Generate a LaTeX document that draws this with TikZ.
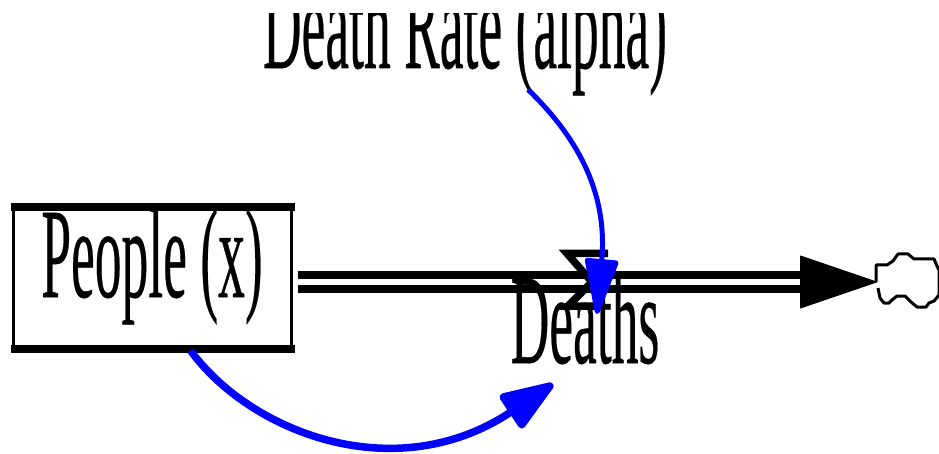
\documentclass[tikz,border=0pt]{standalone}
\usepackage{fontspec}
\setmainfont{Liberation Serif}
\newfontfamily\tallfont[FakeBold=0.4]{Liberation Serif}
\usetikzlibrary{arrows.meta, positioning}

\tikzset{
  tall/.style={anchor=base, inner sep=0pt, font=\tallfont\fontsize{53.5}{60}\selectfont},
  stockbox/.style={draw, line width=3pt, line join=round, minimum width=278pt, minimum height=138pt, inner sep=0pt},
  stockedge/.style={line width=8pt, shorten >=-1.5pt, shorten <=-1.5pt},
  pipeline/.style={draw, line width=8pt, double, double distance=6pt},
  info/.style={draw=blue, line cap=butt}
}
\newcommand{\stretched}[1]{\scalebox{1}[2.4]{#1}}

\begin{document}
\begin{tikzpicture}[x=1pt, y=1pt]
  \useasboundingbox (0,0) rectangle (939,-454);
  \clip (0,0) rectangle (939,-454);

  % stock
  \node[stockbox] (people) at (152.5,-278) {};
  \draw[stockedge] (people.north west) -- (people.north east);
  \draw[stockedge] (people.south west) -- (people.south east);
  \node[tall] (peopletext) at (152,-297) {\stretched{People (x)}};

  % pipe and sink
  \coordinate (pipestart) at (298,-282);
  \coordinate (pipeend) at (803,-282);
  \coordinate (sink) at (877,-282);
  \draw[pipeline] (pipestart) -- (pipeend);
  \draw[line width=1pt, -{Triangle[length=78pt, width=53pt, round]}] (pipeend) -- (sink);
  \draw[line width=3pt, line join=bevel]
    (876,-282) -- (876,-265) -- (887,-265) -- (893,-261) -- (898,-254) -- (908,-254) -- (914,-259)
    -- (934,-259) -- (937,-266) -- (939,-270) -- (939,-295) -- (934,-301) -- (929,-303) -- (926,-307)
    -- (917,-307) -- (911,-302) -- (905,-296) -- (897,-296) -- (892,-300) -- (889,-303)
    -- (884,-303) -- (880,-298) -- (878,-288);

  % valve
  \draw[line width=7.5pt, line join=miter] (608,-253.5) -- (567,-253.5) -- (592,-282) -- (568,-306) -- (600,-306);

  % labels
  \node[tall] (deaths) at (585,-363) {\stretched{Deaths}};
  \begin{scope}
    \clip (250,-14) rectangle (680,-110);
    \node[tall] (rate) at (465,-68) {\stretched{Death Rate (alpha)}};
  \end{scope}

  % information links
  \draw[info, line width=5pt, -{Triangle[length=62pt, width=34pt, round]}]
    ([xshift=63pt,yshift=6pt]rate.south) .. controls (575,-135) and (608,-190) .. (597,-314);
  \draw[info, line width=7.5pt, -{Triangle[length=60pt, width=42pt, round]}]
    ([xshift=38pt,yshift=-2pt]people.south) .. controls (250,-432) and (395,-489) .. (553,-384);
\end{tikzpicture}
\end{document}
